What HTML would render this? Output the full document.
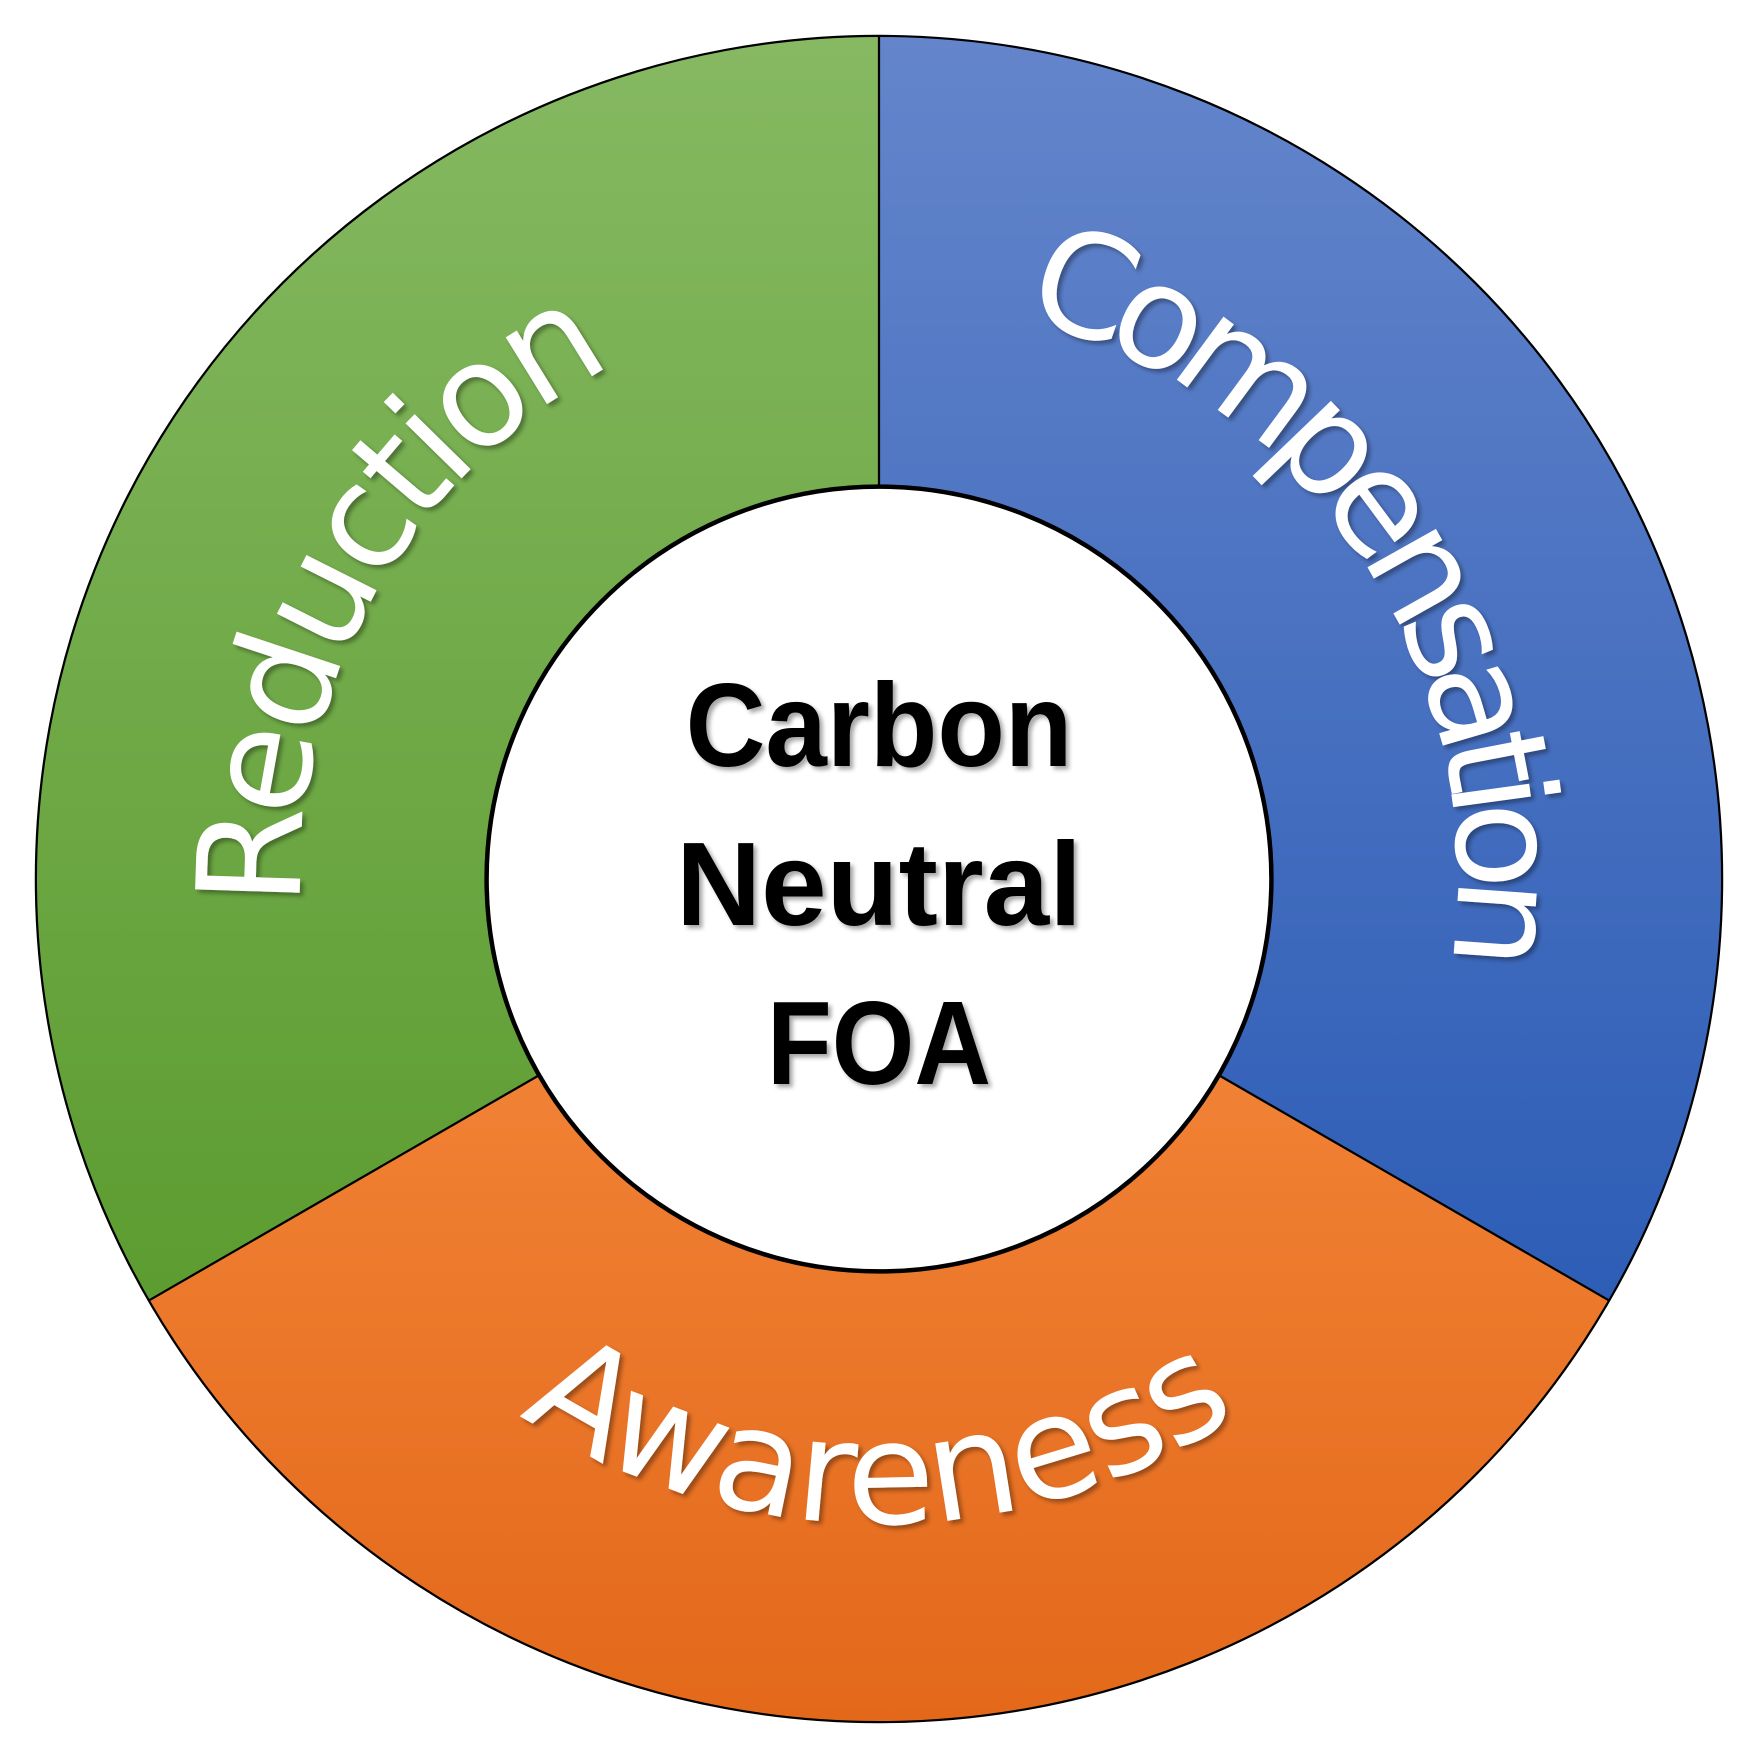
<!DOCTYPE html>
<html><head><meta charset="utf-8"><style>
html,body{margin:0;padding:0;background:#fff;}
svg{display:block;}
</style></head><body>
<svg width="1758" height="1758" viewBox="0 0 1568 1568" xmlns="http://www.w3.org/2000/svg">
<defs>
<linearGradient id="g" x1="0" y1="0" x2="0" y2="1"><stop offset="0" stop-color="#86b962"/><stop offset="1" stop-color="#5c9c30"/></linearGradient>
<linearGradient id="b" x1="0" y1="0" x2="0" y2="1"><stop offset="0" stop-color="#6485cb"/><stop offset="1" stop-color="#2d5db6"/></linearGradient>
<linearGradient id="o" x1="0" y1="0" x2="0" y2="1"><stop offset="0" stop-color="#f5893d"/><stop offset="1" stop-color="#e3681a"/></linearGradient>
<filter id="sh" x="-10%" y="-10%" width="120%" height="120%"><feDropShadow dx="3" dy="3" stdDeviation="2" flood-color="#000" flood-opacity="0.35"/></filter>
<path id="pr" d="M337.1,1042 A516,516 0 0 1 784,268"/>
<path id="pc" d="M784,268 A516,516 0 0 1 1230.9,1042"/>
<path id="pa" d="M286,1071.5 A575,575 0 0 0 1282,1071.5"/>
</defs>
<path d="M784,784 L784,32 A752,752 0 0 1 1435.3,1160 Z" fill="url(#b)"/>
<path d="M784,784 L1435.3,1160 A752,752 0 0 1 132.7,1160 Z" fill="url(#o)"/>
<path d="M784,784 L132.7,1160 A752,752 0 0 1 784,32 Z" fill="url(#g)"/>
<circle cx="784" cy="784" r="752" fill="none" stroke="#000" stroke-width="2"/>
<line x1="784" y1="32" x2="784" y2="784" stroke="#000" stroke-width="2"/>
<line x1="784" y1="784" x2="1435.3" y2="1160" stroke="#000" stroke-width="2"/>
<line x1="784" y1="784" x2="132.7" y2="1160" stroke="#000" stroke-width="2"/>
<circle cx="784" cy="784" r="350" fill="#fff" stroke="#000" stroke-width="4"/>
<g font-family="'DejaVu Sans','Liberation Sans',sans-serif" font-size="128" fill="#fff" filter="url(#sh)">
<text><textPath href="#pr" startOffset="50%" text-anchor="middle" textLength="590" lengthAdjust="spacing">Reduction</textPath></text>
<text><textPath href="#pc" startOffset="47%" text-anchor="middle" textLength="760" lengthAdjust="spacing">Compensation</textPath></text>
<text><textPath href="#pa" startOffset="50%" text-anchor="middle" textLength="680" lengthAdjust="spacing">Awareness</textPath></text>
</g>
<g font-family="'Liberation Sans',sans-serif" font-weight="bold" font-size="106" fill="#000" text-anchor="middle" filter="url(#sh)">
<text x="784" y="683" textLength="345" lengthAdjust="spacingAndGlyphs">Carbon</text>
<text x="784" y="825" textLength="362" lengthAdjust="spacingAndGlyphs">Neutral</text>
<text x="784" y="967" textLength="200" lengthAdjust="spacingAndGlyphs">FOA</text>
</g>
</svg>
</body></html>
